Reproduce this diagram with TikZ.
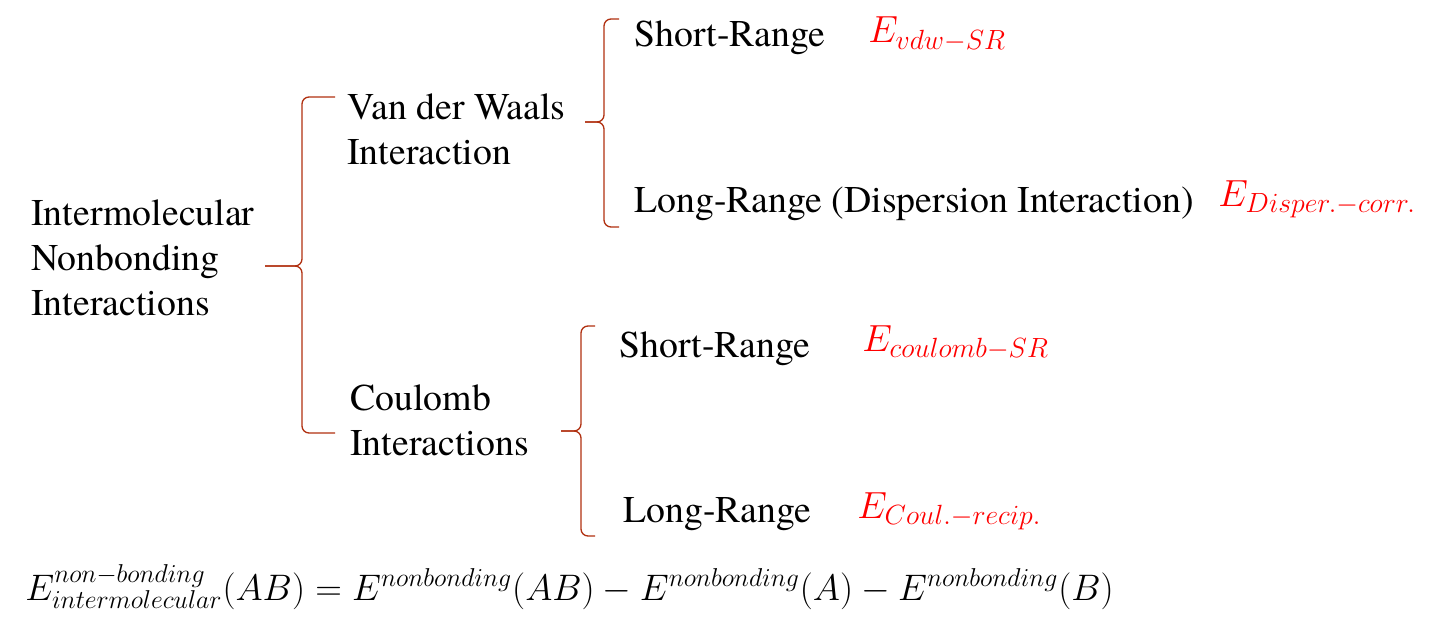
\RequirePackage{fix-cm}
\documentclass[tikz,border=0pt]{standalone}
\usepackage{fontspec}
\setmainfont{texgyretermes}[Extension=.otf, UprightFont=*-regular, ItalicFont=*-italic, BoldFont=*-bold, BoldItalicFont=*-bolditalic]
\DeclareMathSizes{21.5}{21.5}{15.8}{11.5}
\definecolor{bracered}{RGB}{176, 48, 16}
\definecolor{energyred}{RGB}{255, 0, 0}
\usetikzlibrary{positioning}

% one curly brace: tip x, spine x, end x, top y, middle y, bottom y
\newcommand{\curlybrace}[6]{%
  \draw[bracestyle] (#3,#4) -- (#2,#4) -- (#2,#5) -- (#1,#5);
  \draw[bracestyle] (#3,#6) -- (#2,#6) -- (#2,#5) -- (#1,#5);}

\tikzset{
  lbl/.style={inner sep=0pt, font=\fontsize{21.5}{25.6}\selectfont, align=left},
  elbl/.style={inner sep=0pt, text=energyred, font=\fontsize{21.5}{25.6}\selectfont},
  bracestyle/.style={draw=bracered, line width=0.75pt, rounded corners=4pt}
}

\begin{document}
\begin{tikzpicture}
  \useasboundingbox (0,0) rectangle (28.86,12.72);

  % Root
  \node[lbl, anchor=west] (inter) at (0.62, 7.56) {Intermolecular\\Nonbonding\\Interactions};

  % Two families
  \node[lbl, anchor=west] (vdw) at (6.94, 10.14) {Van der Waals\\Interaction};
  \node[lbl, anchor=west] (coul) at (7.00, 4.31) {Coulomb\\Interactions};

  % Van der Waals branches
  \node[lbl, anchor=base west] (vdwsr) at (12.68, 11.78) {Short-Range};
  \node[lbl, anchor=base west] (vdwlr) at (12.68, 8.46) {Long-Range (Dispersion Interaction)};
  \node[elbl, anchor=base west] (evdwsr) at (17.36, 11.86) {$E_{vdw-SR}$};
  \node[elbl, anchor=base west] (evdwlr) at (24.36, 8.58) {$E_{Disper.-corr.}$};

  % Coulomb branches
  \node[lbl, anchor=base west] (coulsr) at (12.38, 5.58) {Short-Range};
  \node[lbl, anchor=base west] (coullr) at (12.46, 2.28) {Long-Range};
  \node[elbl, anchor=base west] (ecoulsr) at (17.24, 5.70) {$E_{coulomb-SR}$};
  \node[elbl, anchor=base west] (ecoullr) at (17.14, 2.36) {$E_{Coul.-recip.}$};

  % Braces
  \curlybrace{5.30}{6.04}{6.70}{10.78}{7.40}{4.06}
  \curlybrace{11.70}{12.08}{12.38}{12.34}{10.28}{8.18}
  \curlybrace{11.22}{11.62}{11.90}{6.20}{4.10}{2.00}

  % Definition
  \node[inner sep=0pt, font=\fontsize{21}{25}\selectfont, anchor=base west] (defn) at (0.50, 0.72)
    {$E^{non-bonding}_{intermolecular}(AB) = E^{nonbonding}(AB) - E^{nonbonding}(A) - E^{nonbonding}(B)$};
\end{tikzpicture}
\end{document}
